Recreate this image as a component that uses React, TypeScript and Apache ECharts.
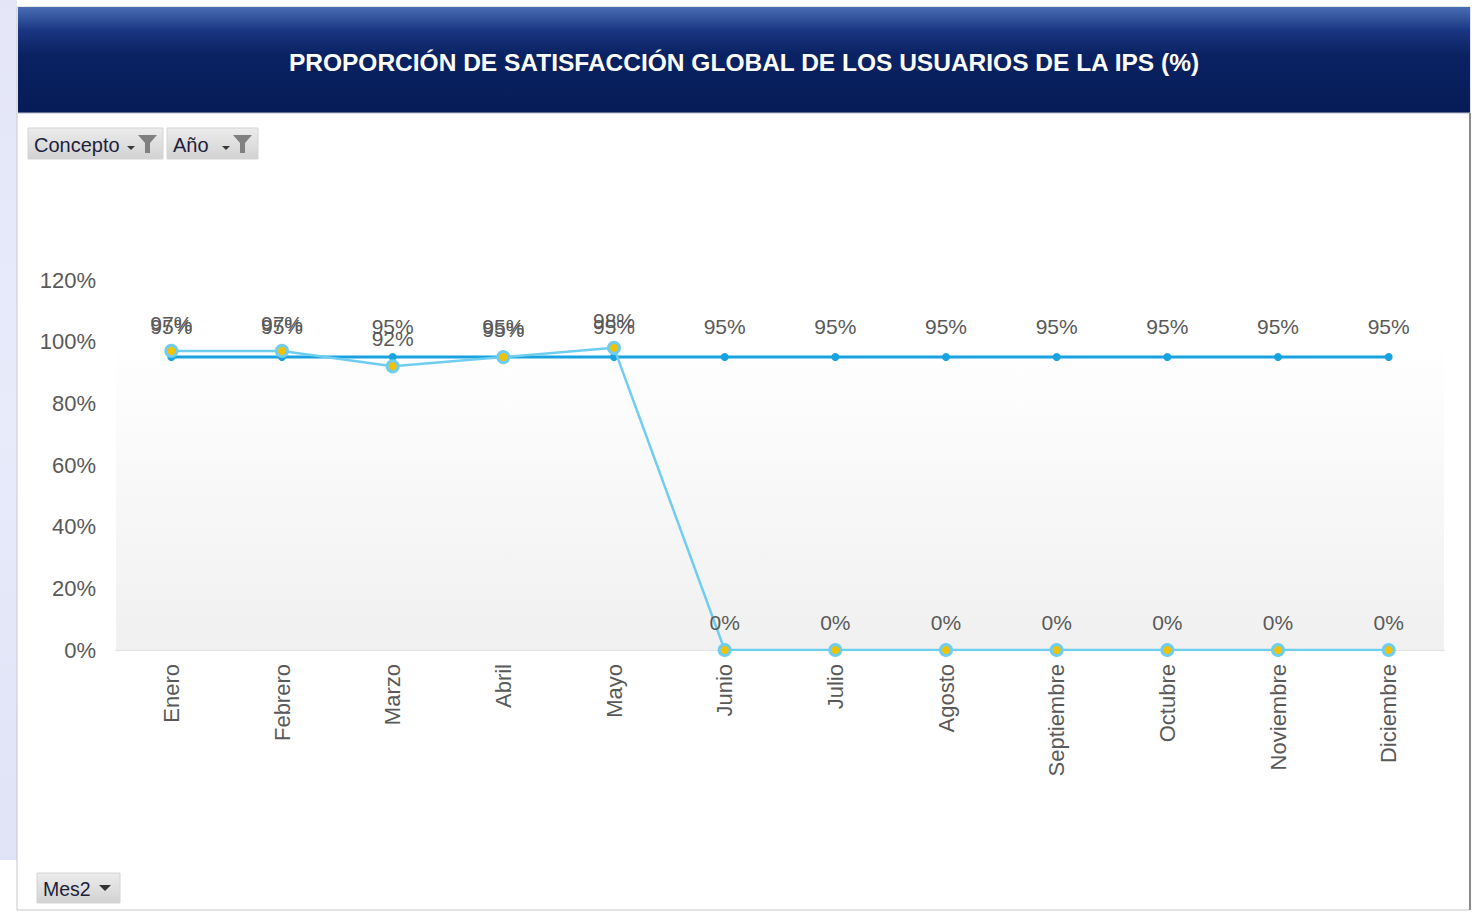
import React, { useEffect, useRef } from "react";
import * as echarts from "echarts";

const months = ["Enero", "Febrero", "Marzo", "Abril", "Mayo", "Junio", "Julio", "Agosto", "Septiembre", "Octubre", "Noviembre", "Diciembre"];
const meta = [95, 95, 95, 95, 95, 95, 95, 95, 95, 95, 95, 95];
const satisfaccion = [97, 97, 92, 95, 98, 0, 0, 0, 0, 0, 0, 0];
const yTicks = { min: 0, max: 120, interval: 20 };
const title = "PROPORCIÓN DE SATISFACCIÓN GLOBAL DE LOS USUARIOS DE LA IPS (%)";

const labelColor = "#595959";

function button(x: number, y: number, w: number, h: number, text: string, funnel: boolean, fontSize: number) {
  const children: any[] = [
    {
      type: "rect",
      shape: { x, y, width: w, height: h },
      style: {
        fill: new echarts.graphic.LinearGradient(0, 0, 0, 1, [
          { offset: 0, color: "#ececec" },
          { offset: 1, color: "#d2d2d2" },
        ]),
        stroke: "#d4d4d4",
        lineWidth: 1,
      },
    },
    {
      type: "text",
      style: { x: x + 6, y: y + h / 2 + 1, text, fill: "#1e1e3c", font: fontSize + "px 'Liberation Sans', Arial, sans-serif", verticalAlign: "middle", textAlign: "left" },
    },
  ];
  if (funnel) {
    const fx = x + w - 25;
    children.push(
      { type: "polygon", shape: { points: [[fx - 11, y + 18], [fx - 3, y + 18], [fx - 7, y + 22]] }, style: { fill: "#3a3a3a" } },
      { type: "polygon", shape: { points: [[fx, y + 7], [fx + 19, y + 7], [fx + 12, y + 15], [fx + 12, y + 25], [fx + 7, y + 25], [fx + 7, y + 15]] }, style: { fill: "#808080" } }
    );
  } else {
    const fx = x + w - 15;
    children.push({ type: "polygon", shape: { points: [[fx - 6, y + 12], [fx + 6, y + 12], [fx, y + 18]] }, style: { fill: "#333" } });
  }
  return { type: "group", children };
}

export default function App() {
  const ref = useRef<HTMLDivElement>(null);
  useEffect(() => {
    if (!ref.current) return;
    const chart = echarts.init(ref.current, undefined, { renderer: "svg" });
    chart.setOption({
      animation: false,
      backgroundColor: "#ffffff",
      graphic: [
        {
          type: "rect",
          z: -10,
          shape: { x: 0, y: 0, width: 17, height: 860 },
          style: {
            fill: new echarts.graphic.LinearGradient(0, 0, 0, 1, [
              { offset: 0, color: "#e4e6f8" },
              { offset: 0.5, color: "#e8ebfa" },
              { offset: 1, color: "#e0e2f6" },
            ]),
          },
        },
        { type: "rect", shape: { x: 17, y: 7, width: 1453, height: 903 }, style: { fill: "#ffffff", stroke: "#c9c9c9", lineWidth: 1 }, z: -5 },
        { type: "line", shape: { x1: 1470, y1: 113, x2: 1470, y2: 910 }, style: { stroke: "#8a8a8a", lineWidth: 2 } },
        {
          type: "rect",
          shape: { x: 18, y: 7, width: 1452, height: 106 },
          style: {
            fill: new echarts.graphic.LinearGradient(0, 0, 0, 1, [
              { offset: 0, color: "#4a6db5" },
              { offset: 0.22, color: "#1a3682" },
              { offset: 0.45, color: "#0a2262" },
              { offset: 1, color: "#061c58" },
            ]),
          },
        },
        { type: "line", shape: { x1: 18, y1: 113, x2: 1470, y2: 113 }, style: { stroke: "#b8bcc8", lineWidth: 1 } },
        {
          type: "text",
          style: {
            x: 744,
            y: 62,
            text: title,
            fill: "#ffffff",
            font: "bold 24.5px 'Liberation Sans', Arial, sans-serif",
            textAlign: "center",
            verticalAlign: "middle",
          },
        },
        button(28, 128, 135, 31, "Concepto", true, 20),
        button(167, 128, 91, 31, "Año", true, 20),
        button(37, 873, 83, 30, "Mes2", false, 19.5),
      ],
      grid: { left: 116, right: 34, top: 280, bottom: 263, containLabel: false },
      xAxis: {
        type: "category",
        data: months,
        boundaryGap: true,
        axisLine: { lineStyle: { color: "#d9d9d9", width: 1.5 } },
        axisTick: { show: false },
        axisLabel: { rotate: 90, color: labelColor, fontSize: 22, fontFamily: "'Liberation Sans', Arial, sans-serif", margin: 14, interval: 0 },
        splitLine: { show: false },
      },
      yAxis: {
        type: "value",
        min: yTicks.min,
        max: yTicks.max,
        interval: yTicks.interval,
        axisLine: { show: false },
        axisTick: { show: false },
        splitLine: { show: false },
        axisLabel: { formatter: "{value}%", color: labelColor, fontSize: 22, fontFamily: "'Liberation Sans', Arial, sans-serif", margin: 20 },
      },
      series: [
        {
          name: "Meta",
          type: "line",
          data: meta,
          z: 2,
          symbol: "circle",
          symbolSize: 8,
          lineStyle: { color: "#18a3e0", width: 3 },
          itemStyle: { color: "#18a3e0" },
          label: {
            show: true,
            position: "top",
            distance: 16,
            formatter: "{c}%",
            color: labelColor,
            fontSize: 21,
            fontFamily: "'Liberation Sans', Arial, sans-serif",
          },
          markArea: {
            silent: true,
            itemStyle: {
              color: new echarts.graphic.LinearGradient(0, 0, 0, 1, [
                { offset: 0, color: "#ffffff" },
                { offset: 1, color: "#f0f0f0" },
              ]),
            },
            data: [[{ yAxis: 0 }, { yAxis: 99.5 }]],
          },
        },
        {
          name: "Satisfacción",
          type: "line",
          data: satisfaccion,
          z: 3,
          symbol: "circle",
          symbolSize: 11,
          lineStyle: { color: "#6fcdf0", width: 2.5 },
          itemStyle: { color: "#f2c200", borderColor: "#6fcdf0", borderWidth: 3 },
          label: {
            show: true,
            position: "top",
            distance: 10,
            formatter: "{c}%",
            color: labelColor,
            fontSize: 21,
            fontFamily: "'Liberation Sans', Arial, sans-serif",
          },
        },
      ],
    });
    return () => chart.dispose();
  }, []);
  return <div ref={ref} style={{ position: "fixed", left: 0, top: 0, width: 1478, height: 913 }} />;
}
